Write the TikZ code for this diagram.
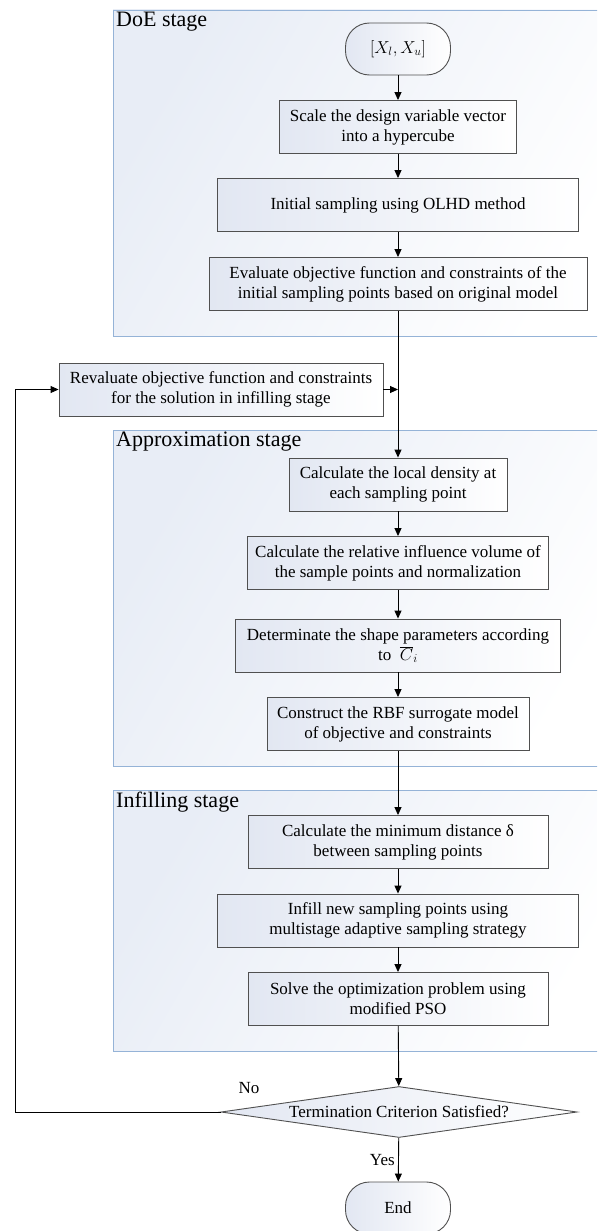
\documentclass[tikz,border=0pt]{standalone}
\usepackage{fontspec}
\setmainfont{Liberation Serif}
\usetikzlibrary{arrows.meta,shapes.geometric,positioning}
\definecolor{stageline}{HTML}{95B3D7}
\definecolor{stagefill}{HTML}{E8EDF6}
\definecolor{boxfill}{HTML}{E2E7F2}
\definecolor{boxline}{HTML}{505050}

\begin{document}
\begin{tikzpicture}[x=1pt,y=-1pt,%
        stage/.style={draw=stageline, line width=0.9pt, left color=stagefill,
            right color=white, shading angle=60},
        stagename/.style={anchor=north west, inner sep=0pt,
            font=\fontsize{22}{26}\selectfont},
        proc/.style={draw=boxline, line width=0.9pt, left color=boxfill,
            right color=white, minimum height=53pt, align=center, inner sep=2pt,
            font=\fontsize{17}{20}\selectfont},
        term/.style={proc, rounded corners=24pt, minimum width=105pt,
            minimum height=52pt},
        decide/.style={proc, diamond, aspect=7, inner sep=0pt,
            minimum width=356pt, minimum height=51pt},
        lbl/.style={font=\fontsize{17}{20}\selectfont},
        arr/.style={draw=black, line width=0.9pt,
            -{Triangle[length=8pt,width=7pt]}}
    ]
        \clip (0,0) rectangle (597,1231);

        \path [stage] (113,10) rectangle (620,336);
        \path [stage] (113,430) rectangle (620,766);
        \path [stage] (113,790) rectangle (620,1051);
        \node [stagename] (doe) at (116,12) {DoE stage};
        \node [stagename] (approx) at (116,432) {Approximation stage};
        \node [stagename] (infilling) at (116,792) {Infilling stage};

        \node [term] (start) at (398,49) {$[X_l,X_u]$};
        \node [proc, minimum width=237pt] (scale) at (398,127)
            {Scale the design variable vector\\into a  hypercube};
        \node [proc, minimum width=361pt] (olhd) at (398,205)
            {Initial sampling using OLHD method};
        \node [proc, minimum width=378pt] (evaluate) at (398,284)
            {Evaluate objective function and constraints of the\\
             initial sampling points based on original model};

        \node [proc, minimum width=324pt] (rev) at (221,389.5)
            {Revaluate objective function and constraints\\
             for the solution in infilling stage};

        \node [proc, minimum width=218pt] (density) at (398,484.5)
            {Calculate the local density at\\each sampling point};
        \node [proc, minimum width=301pt] (volume) at (398,563)
            {Calculate the relative influence volume of\\
             the sample points and normalization};
        \node [proc, minimum width=325pt] (params) at (398,645.5)
            {Determinate the shape parameters according\\
             to\ \ $\overline{C}_{i}$};
        \node [proc, minimum width=262pt] (rbf) at (398,724)
            {Construct the RBF surrogate model\\of objective and constraints};

        \node [proc, minimum width=300pt] (delta) at (398,842)
            {Calculate the minimum distance δ\\between sampling points};
        \node [proc, minimum width=361pt] (infill) at (398,920.5)
            {Infill new sampling points using\\
             multistage adaptive sampling strategy};
        \node [proc, minimum width=300pt] (pso) at (398,999)
            {Solve the optimization problem using\\modified PSO};

        \node [decide] (check) at (399,1112) {Termination Criterion Satisfied?};
        \node [term] (stop) at (398,1208) {End};
        \node [lbl] (no) at (249,1088) {No};
        \coordinate (back) at (15,1112);

        \foreach \a/\b in {start/scale, scale/olhd, olhd/evaluate,
                evaluate/density, density/volume, volume/params, params/rbf,
                rbf/delta, delta/infill, infill/pso, pso/check}
            \draw [arr] (\a) -- (\b);
        \draw [arr] (rev.east) -- (rev.east -| evaluate);
        \draw [arr] (check.west) -- (back) |- (rev.west);
        \draw [arr] (check) -- node [lbl, left] {Yes} (stop);
    \end{tikzpicture}
\end{document}
